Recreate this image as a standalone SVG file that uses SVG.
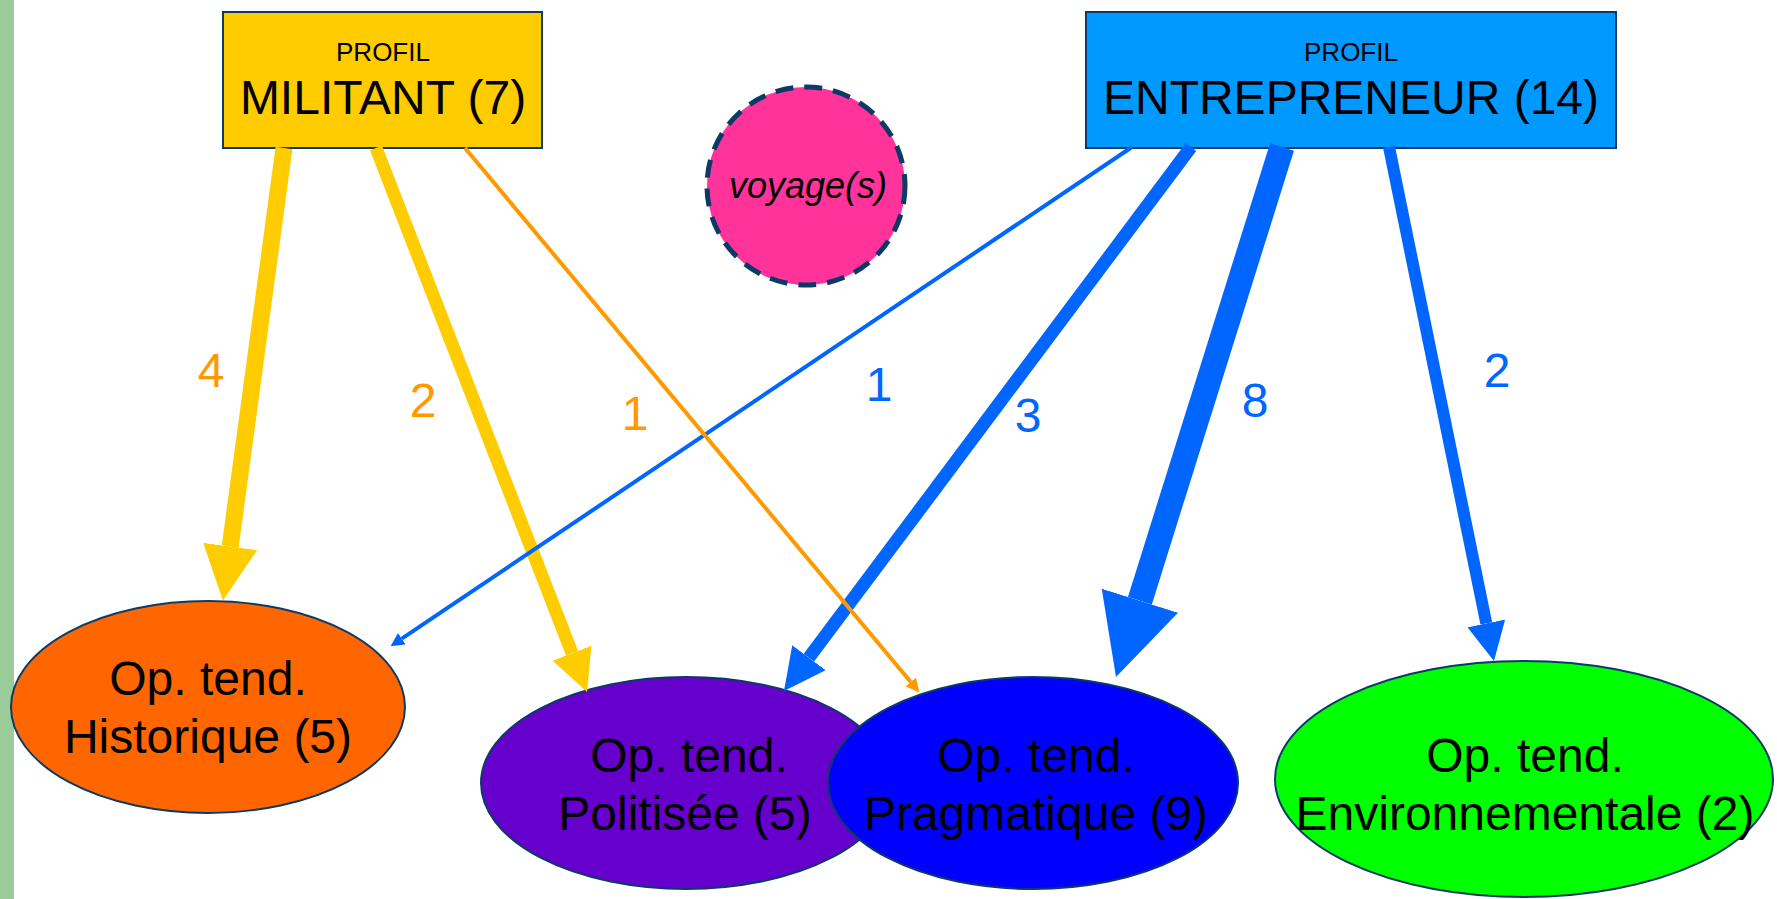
<svg xmlns="http://www.w3.org/2000/svg" width="1777" height="899" viewBox="0 0 1777 899">
<style>
text{font-family:"Liberation Sans",Arial,sans-serif;fill:#000}
.box{stroke:#0B3A66;stroke-width:2}
.ell{stroke:#0B3A66;stroke-width:2}
.t1{font-size:26px;text-anchor:middle}
.t2{font-size:48px;text-anchor:middle}
.te{font-size:48px;text-anchor:middle}
.lab{font-size:48px;text-anchor:middle}
.y{stroke:#FFCC00;fill:none}
.o{stroke:#FF9900;fill:none}
.b{stroke:#0066FF;fill:none}
</style>
<defs>
<marker id="hy" viewBox="0 0 10 10" refX="0" refY="5" markerWidth="3.2" markerHeight="3.2" orient="auto" markerUnits="strokeWidth"><path d="M0,0 L10,5 L0,10 z" fill="#FFCC00"/></marker>
<marker id="ho" viewBox="0 0 10 10" refX="0" refY="5" markerWidth="3.4" markerHeight="3.4" orient="auto" markerUnits="strokeWidth"><path d="M0,0 L10,5 L0,10 z" fill="#FF9900"/></marker>
<marker id="hb" viewBox="0 0 10 10" refX="0" refY="5" markerWidth="3.2" markerHeight="3.2" orient="auto" markerUnits="strokeWidth"><path d="M0,0 L10,5 L0,10 z" fill="#0066FF"/></marker>
<marker id="hbt" viewBox="0 0 10 10" refX="0" refY="5" markerWidth="3.4" markerHeight="3.4" orient="auto" markerUnits="strokeWidth"><path d="M0,0 L10,5 L0,10 z" fill="#0066FF"/></marker>
</defs>
<rect x="0" y="0" width="1777" height="899" fill="#FFFFFF"/>
<rect x="0" y="0" width="14" height="899" fill="#99CC99"/>

<g id="n-historique"><ellipse class="ell" cx="208" cy="707" rx="197" ry="106" fill="#FF6600"/><text class="te" x="208" y="695">Op. tend.</text><text class="te" x="208" y="753">Historique (5)</text></g>
<g id="n-politisee"><ellipse class="ell" cx="686" cy="783" rx="205" ry="106" fill="#6600CC"/><text class="te" x="689" y="772">Op. tend.</text><text class="te" x="685" y="830">Politisée (5)</text></g>
<g id="n-pragmatique"><ellipse class="ell" cx="1033" cy="783" rx="205" ry="106" fill="#0000FF"/><text class="te" x="1036" y="772">Op. tend.</text><text class="te" x="1036" y="830">Pragmatique (9)</text></g>
<g id="n-environnementale"><ellipse class="ell" cx="1524" cy="779" rx="249" ry="118" fill="#00FF00"/><text class="te" x="1525" y="772">Op. tend.</text><text class="te" x="1525" y="830">Environnementale (2)</text></g>

<g id="n-militant"><rect class="box" x="223" y="12" width="319" height="136" fill="#FFCC00"/><text class="t1" x="383" y="61">PROFIL</text><text class="t2" x="383" y="114">MILITANT (7)</text></g>
<g id="n-entrepreneur"><rect class="box" x="1086" y="12" width="530" height="136" fill="#0099FF"/><text class="t1" x="1351" y="61">PROFIL</text><text class="t2" x="1351" y="114">ENTREPRENEUR (14)</text></g>
<g id="n-voyage"><circle cx="806" cy="186" r="99" fill="#FF3399" stroke="#0B3A66" stroke-width="5" stroke-dasharray="18 11"/><text x="808" y="198" style="font-size:36px;font-style:italic;text-anchor:middle">voyage(s)</text></g>

<g id="connectors">
<line class="y" x1="284" y1="148" x2="230.2" y2="546.5" stroke-width="17" marker-end="url(#hy)"/>
<line class="y" x1="376" y1="148" x2="572" y2="653.2" stroke-width="13" marker-end="url(#hy)"/>
<line class="b" x1="1132" y1="147" x2="401.8" y2="638.7" stroke-width="4" marker-end="url(#hbt)"/>
<line class="b" x1="1191" y1="147" x2="808.9" y2="657.7" stroke-width="13" marker-end="url(#hb)"/>
<line class="o" x1="465" y1="148" x2="910.7" y2="682" stroke-width="4" marker-end="url(#ho)"/>
<line class="b" x1="1282" y1="147" x2="1139.9" y2="600.7" stroke-width="25" marker-end="url(#hb)"/>
<line class="b" x1="1389" y1="147" x2="1486.3" y2="623.4" stroke-width="12" marker-end="url(#hb)"/>
<text class="lab" x="211" y="387" style="fill:#FF9900">4</text>
<text class="lab" x="423" y="417" style="fill:#FF9900">2</text>
<text class="lab" x="635" y="430" style="fill:#FF9900">1</text>
<text class="lab" x="879" y="401" style="fill:#0066FF">1</text>
<text class="lab" x="1028" y="432" style="fill:#0066FF">3</text>
<text class="lab" x="1255" y="417" style="fill:#0066FF">8</text>
<text class="lab" x="1497" y="387" style="fill:#0066FF">2</text>
</g>
</svg>
